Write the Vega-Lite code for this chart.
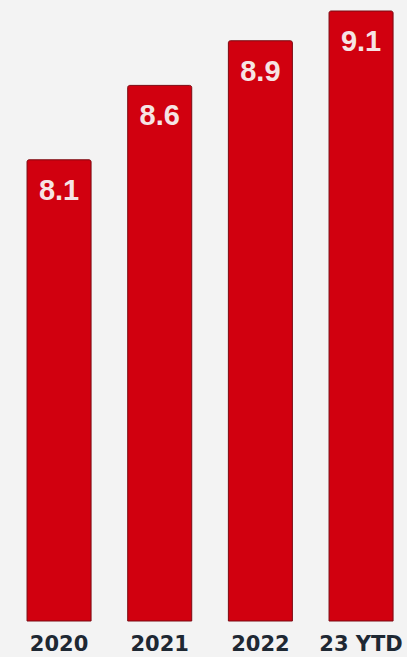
{
  "$schema": "https://vega.github.io/schema/vega-lite/v6.json",
  "width": 407,
  "height": 621,
  "padding": {"top": 0, "left": 0, "right": 0, "bottom": 36},
  "autosize": {"type": "none"},
  "background": "#f3f3f3",
  "config": {"view": {"stroke": null}},
  "data": {"values": [
    {"year": "2020", "value": 8.1},
    {"year": "2021", "value": 8.6},
    {"year": "2022", "value": 8.9},
    {"year": "23 YTD", "value": 9.1}
  ]},
  "encoding": {
    "x": {
      "field": "year", "type": "nominal", "sort": null,
      "scale": {"paddingInner": 0.364, "paddingOuter": 0.2035, "align": 0.66},
      "axis": {
        "title": null, "labelAngle": 0, "ticks": false, "domain": false,
        "labelFont": "DejaVu Sans", "labelFontWeight": "bold", "labelFontSize": 21,
        "labelColor": "#1e2833", "labelPadding": 12, "grid": false
      }
    },
    "y": {
      "field": "value", "type": "quantitative",
      "scale": {"domain": [5, 9.174], "zero": false, "nice": false},
      "axis": null
    }
  },
  "layer": [
    {
      "mark": {"type": "bar", "color": "#d1000f", "stroke": "#7a0a12", "strokeWidth": 1, "cornerRadiusTopLeft": 2, "cornerRadiusTopRight": 2},
      "encoding": {"y2": {"datum": 5}}
    },
    {
      "mark": {"type": "text", "baseline": "middle", "align": "center", "dy": 31, "font": "Liberation Sans", "fontWeight": "bold", "fontSize": 29, "color": "#f6e4e4"},
      "encoding": {"text": {"field": "value", "type": "quantitative", "format": ".1f"}}
    }
  ]
}
